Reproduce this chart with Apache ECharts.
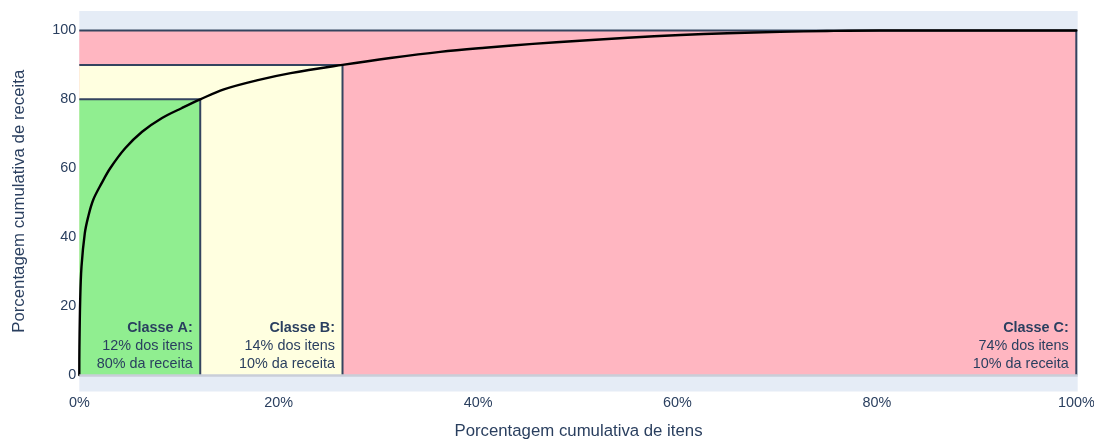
<!DOCTYPE html>
<html>
<head>
<meta charset="utf-8">
<title>Curva ABC</title>
<script src="https://cdn.jsdelivr.net/npm/echarts@6/dist/echarts.min.js"></script>
<style>
  html, body { margin: 0; padding: 0; background: #ffffff; }
  #chart { width: 1094px; height: 441px; }
</style>
</head>
<body>
<div id="chart"></div>
<script>
// ABC classes: cumulative share of items and of revenue at each class boundary
const classNames = ['A', 'B', 'C'];
const itemCum = [12.13, 26.4, 100];
const revenueCum = [80, 90, 100];
const classColors = ['#90ee90', '#ffffe0', '#ffb6c1'];

// Cumulative revenue curve (items sorted by revenue, descending)
const curveX = [0, 0.01, 0.09, 0.22, 0.55, 0.89, 1.39, 2.23, 3.1, 4.6, 6.3, 8.3, 10.3, 12.13,
  14.5, 17.8, 21.2, 26.4, 31.2, 36.2, 40.7, 45.5, 50.2, 55, 60.3, 65, 70.3, 75, 80.3, 90, 100];
const curveY = [0, 7.3, 21.8, 31.4, 41.1, 45.9, 50.8, 55.6, 60.0, 65.8, 70.6, 74.6, 77.5, 80,
  82.9, 85.5, 87.6, 90, 92.0, 93.8, 95.0, 96.1, 97.0, 97.9, 98.7, 99.2, 99.6, 99.85, 100, 100, 100];

// Tick labels
const xTicks = [0, 20, 40, 60, 80, 100];
const yTicks = [0, 20, 40, 60, 80, 100];

const textColor = '#2a3f5f';
const fontFamily = '"Liberation Sans", Arial, sans-serif';

// Class rectangles: each spans from the origin to its boundary; drawn largest first
const rectData = classNames.map((name, i) => {
  const prevItem = i === 0 ? 0 : itemCum[i - 1];
  const prevRev = i === 0 ? 0 : revenueCum[i - 1];
  const itemShare = Math.round(itemCum[i] - prevItem);
  const revShare = Math.round(revenueCum[i] - prevRev);
  return {
    value: [itemCum[i], revenueCum[i]],
    name: name,
    color: classColors[i],
    lines: ['Classe ' + name + ':', itemShare + '% dos itens', revShare + '% da receita']
  };
}).reverse();

const chart = echarts.init(document.getElementById('chart'), null, { renderer: 'canvas' });

chart.setOption({
  animation: false,
  backgroundColor: '#ffffff',
  grid: {
    left: 79.3,
    top: 11,
    width: 998.4,
    height: 380.5,
    outerBoundsMode: 'none',
    containLabel: false,
    show: true,
    backgroundColor: '#e5ecf6',
    borderWidth: 0
  },
  xAxis: {
    type: 'value',
    min: 0,
    max: 100.14,
    name: 'Porcentagem cumulativa de itens',
    nameLocation: 'middle',
    nameGap: 31,
    nameTextStyle: { color: textColor, fontSize: 16.8, fontFamily: fontFamily },
    axisLine: { show: false },
    axisTick: { show: false },
    splitLine: { show: false },
    axisLabel: {
      customValues: xTicks,
      formatter: v => v + '%',
      color: textColor,
      fontSize: 14.4,
      fontFamily: fontFamily,
      margin: 5,
      showMinLabel: true,
      showMaxLabel: true
    }
  },
  yAxis: {
    type: 'value',
    min: -4.8,
    max: 105.65,
    name: 'Porcentagem cumulativa de receita',
    nameLocation: 'middle',
    nameGap: 51,
    nameTextStyle: { color: textColor, fontSize: 16.8, fontFamily: fontFamily },
    axisLine: { show: false },
    axisTick: { show: false },
    splitLine: { show: false },
    axisLabel: {
      customValues: yTicks,
      color: textColor,
      fontSize: 14.4,
      fontFamily: fontFamily,
      margin: 3
    }
  },
  series: [
    {
      type: 'custom',
      clip: true,
      silent: true,
      z: 1,
      data: rectData,
      renderItem: function (params, api) {
        const item = rectData[params.dataIndex];
        const x1 = api.value(0);
        const y1 = api.value(1);
        const p0 = api.coord([0, 0]);
        const p1 = api.coord([x1, y1]);
        const border = { stroke: '#34445f', lineWidth: 2, fill: null };
        return {
          type: 'group',
          children: [
            {
              type: 'rect',
              shape: { x: p0[0], y: p1[1], width: p1[0] - p0[0], height: p0[1] - p1[1] },
              style: { fill: item.color }
            },
            {
              type: 'polyline',
              shape: { points: [[p0[0], p1[1]], [p1[0], p1[1]], [p1[0], p0[1]]] },
              style: border
            },
            {
              type: 'text',
              x: p1[0] - 7.5,
              y: p0[1] - 2.5,
              style: {
                text: '{b|' + item.lines[0] + '}\n{n|' + item.lines[1] + '}\n{n|' + item.lines[2] + '}',
                align: 'right',
                verticalAlign: 'bottom',
                rich: {
                  b: { fontWeight: 'bold', fontSize: 14.4, fontFamily: fontFamily, fill: textColor, lineHeight: 17.8, align: 'right' },
                  n: { fontSize: 14.4, fontFamily: fontFamily, fill: textColor, lineHeight: 17.8, align: 'right' }
                }
              }
            }
          ]
        };
      }
    },
    {
      type: 'line',
      z: 3,
      data: curveX.map((x, i) => [x, curveY[i]]),
      showSymbol: false,
      smooth: 0.35,
      clip: false,
      lineStyle: { color: '#000000', width: 2.4, join: 'round', cap: 'round' },
      markLine: {
        silent: true,
        symbol: 'none',
        label: { show: false },
        lineStyle: { color: '#c9ced8', width: 2.5, type: 'solid' },
        data: [{ yAxis: 0 }]
      }
    }
  ]
});
</script>
</body>
</html>
